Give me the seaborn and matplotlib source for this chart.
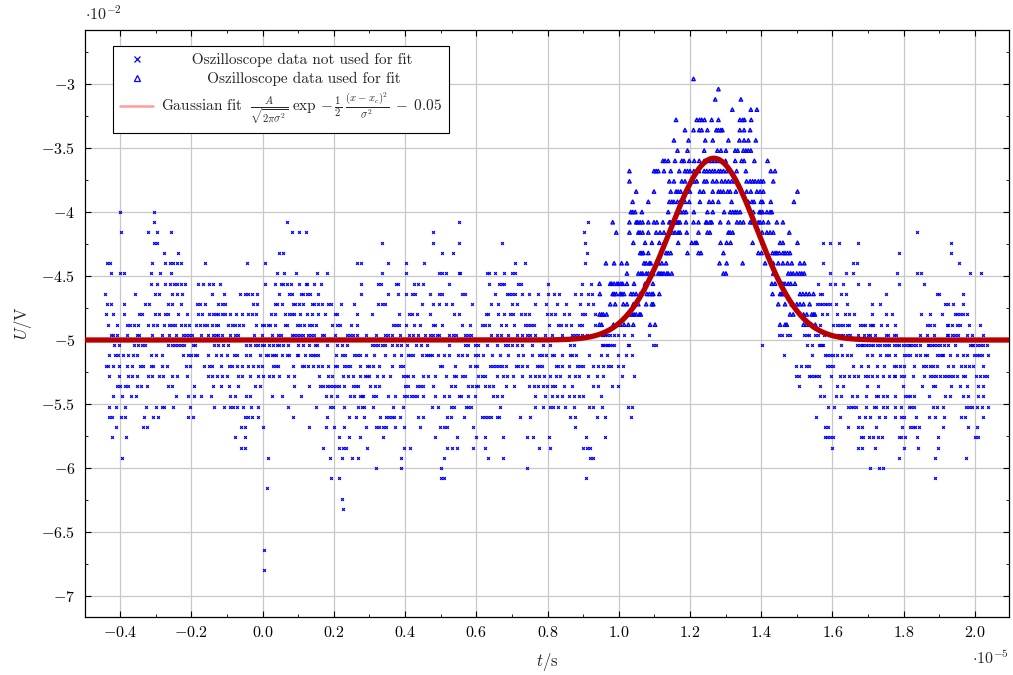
import numpy as np
import pandas as pd
import matplotlib
matplotlib.use("Agg")
import matplotlib.pyplot as plt
import seaborn as sns
from matplotlib.lines import Line2D
from matplotlib.ticker import MultipleLocator, FuncFormatter

# ---------------- data (time in units of 1e-5 s, voltage in V) ----------------
U_LEVELS = [-0.0296, -0.0304, -0.0312, -0.0320, -0.0328, -0.0336, -0.0344, -0.0352,
            -0.0360, -0.0368, -0.0376, -0.0384, -0.0392, -0.0400, -0.0408, -0.0416,
            -0.0424, -0.0432, -0.0440, -0.0448, -0.0456, -0.0464, -0.0472, -0.0480,
            -0.0488, -0.0496, -0.0504, -0.0512, -0.0520, -0.0528, -0.0536, -0.0544,
            -0.0552, -0.0560, -0.0568, -0.0576, -0.0584, -0.0592, -0.0600, -0.0608,
            -0.0616, -0.0624, -0.0632, -0.0664, -0.0680]

T_AT_LEVEL = [
    [1.210],
    [1.280],
    [1.271, 1.343],
    [1.319, 1.371, 1.388],
    [1.161, 1.219, 1.227, 1.233, 1.241, 1.261, 1.280, 1.340, 1.348, 1.353, 1.372],
    [1.186, 1.210, 1.226, 1.233, 1.249, 1.274, 1.280, 1.287, 1.291, 1.340, 1.352, 1.369],
    [1.155, 1.196, 1.243, 1.264, 1.308, 1.339, 1.352, 1.364, 1.385],
    [1.165, 1.193, 1.240, 1.277, 1.287, 1.301, 1.327, 1.334, 1.350, 1.357, 1.364, 1.371],
    [1.124, 1.130, 1.139, 1.158, 1.177, 1.183, 1.198, 1.212, 1.226, 1.240, 1.245, 1.254,
     1.261, 1.270, 1.278, 1.286, 1.300, 1.327, 1.345, 1.352, 1.381, 1.418],
    [1.030, 1.099, 1.105, 1.111, 1.127, 1.146, 1.170, 1.186, 1.193, 1.200, 1.211, 1.225,
     1.240, 1.247, 1.255, 1.263, 1.270, 1.280, 1.286, 1.294, 1.303, 1.331, 1.357, 1.427, 1.439],
    [1.030, 1.142, 1.155, 1.177, 1.186, 1.205, 1.212, 1.219, 1.240, 1.247, 1.264, 1.275,
     1.289, 1.299, 1.308, 1.317, 1.327, 1.359, 1.369, 1.376, 1.383, 1.392, 1.399, 1.406, 1.434],
    [1.049, 1.099, 1.146, 1.161, 1.167, 1.174, 1.186, 1.200, 1.228, 1.238, 1.264, 1.280,
     1.286, 1.294, 1.306, 1.313, 1.329, 1.359, 1.371, 1.388, 1.397, 1.406, 1.502],
    [1.039, 1.083, 1.142, 1.149, 1.155, 1.165, 1.172, 1.186, 1.198, 1.228, 1.254, 1.264,
     1.280, 1.317, 1.364, 1.374, 1.380, 1.399, 1.404, 1.427, 1.492],
    [-0.400, -0.306, 1.034, 1.039, 1.046, 1.065, 1.139, 1.167, 1.174, 1.182, 1.189, 1.211,
     1.249, 1.264, 1.296, 1.313, 1.320, 1.327, 1.333, 1.341, 1.378, 1.395, 1.399, 1.404,
     1.416, 1.425, 1.430],
    [-0.304, 0.067, 0.551, 0.913, 0.983, 1.030, 1.049, 1.053, 1.060, 1.067, 1.083, 1.099,
     1.107, 1.124, 1.142, 1.146, 1.152, 1.158, 1.163, 1.167, 1.172, 1.189, 1.210, 1.224,
     1.245, 1.247, 1.256, 1.261, 1.285, 1.308, 1.332, 1.341, 1.350, 1.369, 1.376, 1.383,
     1.392, 1.397, 1.406, 1.420, 1.444, 1.461],
    [-0.399, -0.321, -0.296, -0.257, 0.083, 0.103, 0.122, 0.479, 0.903, 0.993, 1.030, 1.055,
     1.060, 1.067, 1.083, 1.105, 1.116, 1.127, 1.144, 1.151, 1.158, 1.167, 1.172, 1.191,
     1.224, 1.249, 1.256, 1.308, 1.313, 1.320, 1.403, 1.416, 1.425, 1.434, 1.479, 1.837],
    [-0.304, -0.298, 0.334, 0.479, 0.552, 0.671, 0.905, 1.041, 1.074, 1.093, 1.114, 1.127,
     1.167, 1.205, 1.214, 1.219, 1.286, 1.303, 1.314, 1.376, 1.404, 1.453, 1.461, 1.502,
     1.575, 1.592, 1.619, 1.671, 1.932],
    [-0.276, -0.238, 0.047, 0.058, 0.505, 0.534, 0.912, 1.060, 1.065, 1.069, 1.083, 1.133,
     1.139, 1.146, 1.193, 1.224, 1.231, 1.294, 1.392, 1.401, 1.432, 1.439, 1.444, 1.451,
     1.461, 1.467, 1.474, 1.481, 1.788, 1.932],
    [-0.436, -0.428, -0.312, -0.275, -0.259, -0.251, -0.241, -0.228, -0.162, -0.045, 0.006,
     0.264, 0.276, 0.353, 0.403, 0.454, 0.709, 0.737, 0.905, 0.964, 0.987, 1.008, 1.023,
     1.071, 1.077, 1.086, 1.090, 1.111, 1.121, 1.133, 1.283, 1.303, 1.348, 1.411, 1.434,
     1.448, 1.461, 1.474, 1.486, 1.509, 1.521, 1.573, 1.659, 1.669, 1.956],
    [-0.427, -0.401, -0.390, -0.313, -0.288, -0.258, 0.041, 0.061, 0.093, 0.153, 0.182,
     0.335, 0.403, 0.495, 0.505, 0.514, 0.550, 0.554, 0.629, 0.636, 0.653, 0.679, 0.700,
     0.709, 1.023, 1.055, 1.062, 1.067, 1.077, 1.083, 1.090, 1.097, 1.111, 1.116, 1.121,
     1.127, 1.135, 1.139, 1.149, 1.294, 1.301, 1.434, 1.476, 1.483, 1.490, 1.500, 1.508,
     1.514, 1.521, 1.594, 1.639, 1.659, 1.781, 1.839, 1.848, 1.987, 2.017],
    [-0.314, -0.298, -0.273, -0.260, -0.248, -0.242, -0.228, -0.218, -0.181, -0.169, -0.152,
     -0.140, -0.119, 0.006, 0.036, 0.051, 0.058, 0.067, 0.079, 0.103, 0.121, 0.125, 0.144,
     0.164, 0.276, 0.325, 0.332, 0.374, 0.379, 0.426, 0.435, 0.451, 0.523, 0.636, 0.664,
     0.671, 0.679, 0.718, 0.726, 0.802, 0.898, 0.922, 0.946, 0.976, 0.980, 0.987, 0.995,
     0.999, 1.006, 1.011, 1.023, 1.043, 1.074, 1.096, 1.430, 1.439, 1.461, 1.467, 1.476,
     1.483, 1.495, 1.559, 1.592, 1.608, 1.631, 1.671, 1.702, 1.788, 1.856],
    [-0.442, -0.359, -0.302, -0.291, -0.254, -0.240, -0.226, -0.142, -0.110, -0.063, -0.051,
     -0.040, -0.029, -0.015, 0.046, 0.074, 0.083, 0.107, 0.114, 0.124, 0.133, 0.156, 0.276,
     0.353, 0.379, 0.402, 0.418, 0.428, 0.470, 0.495, 0.503, 0.561, 0.568, 0.653, 0.685,
     0.692, 0.700, 0.709, 0.729, 0.749, 0.772, 0.802, 0.818, 0.832, 0.877, 0.893, 0.913,
     0.924, 0.947, 0.983, 0.987, 0.993, 1.004, 1.009, 1.015, 1.034, 1.041, 1.049, 1.060,
     1.079, 1.086, 1.093, 1.097, 1.114, 1.432, 1.453, 1.457, 1.464, 1.509, 1.517, 1.526,
     1.535, 1.547, 1.565, 1.572, 1.625, 1.639, 1.751, 1.893, 1.900, 1.968],
    [-0.437, -0.426, -0.390, -0.331, -0.318, -0.267, -0.254, -0.228, -0.185, -0.176, -0.162,
     -0.125, -0.115, -0.105, -0.028, -0.015, 0.035, 0.039, 0.053, 0.086, 0.091, 0.102,
     0.114, 0.138, 0.144, 0.154, 0.166, 0.183, 0.192, 0.219, 0.256, 0.325, 0.336, 0.344,
     0.447, 0.478, 0.495, 0.514, 0.533, 0.587, 0.641, 0.662, 0.699, 0.715, 0.765, 0.796,
     0.826, 0.851, 0.891, 0.913, 0.929, 0.976, 0.990, 1.013, 1.023, 1.041, 1.055, 1.077,
     1.093, 1.097, 1.448, 1.467, 1.486, 1.490, 1.500, 1.509, 1.519, 1.536, 1.558, 1.564,
     1.570, 1.578, 1.584, 1.594, 1.611, 1.641, 1.711, 1.734, 1.917, 1.926, 1.940, 1.968],
    [-0.440, -0.419, -0.390, -0.348, -0.340, -0.302, -0.291, -0.274, -0.267, -0.237, -0.212,
     -0.181, -0.171, -0.151, -0.139, -0.131, -0.125, -0.115, -0.106, -0.092, -0.075, -0.058,
     -0.042, -0.031, -0.019, 0.023, 0.035, 0.063, 0.075, 0.081, 0.089, 0.105, 0.124, 0.138,
     0.156, 0.175, 0.203, 0.210, 0.264, 0.308, 0.384, 0.411, 0.418, 0.432, 0.470, 0.536,
     0.550, 0.626, 0.634, 0.662, 0.678, 0.695, 0.702, 0.726, 0.737, 0.748, 0.798, 0.809,
     0.821, 0.845, 0.859, 0.896, 0.905, 0.932, 0.946, 0.952, 0.957, 0.966, 1.023, 1.030,
     1.037, 1.043, 1.049, 1.058, 1.062, 1.481, 1.490, 1.519, 1.528, 1.542, 1.547, 1.551,
     1.570, 1.584, 1.614, 1.636, 1.648, 1.661, 1.711, 1.751, 1.767, 1.848, 1.873, 1.907,
     1.945, 1.949, 1.959, 1.968, 1.977],
    [-0.435, -0.408, -0.381, -0.374, -0.360, -0.349, -0.321, -0.307, -0.298, -0.276, -0.262,
     -0.254, -0.246, -0.230, -0.218, -0.206, -0.187, -0.176, -0.166, -0.157, -0.143, -0.132,
     -0.126, -0.098, -0.087, -0.078, -0.067, -0.054, -0.020, -0.003, 0.004, 0.016, 0.021,
     0.036, 0.063, 0.067, 0.097, 0.105, 0.116, 0.130, 0.139, 0.149, 0.194, 0.208, 0.217,
     0.247, 0.266, 0.365, 0.375, 0.384, 0.402, 0.425, 0.442, 0.479, 0.484, 0.503, 0.559,
     0.582, 0.617, 0.623, 0.636, 0.669, 0.684, 0.707, 0.737, 0.746, 0.754, 0.763, 0.804,
     0.829, 0.838, 0.851, 0.865, 0.887, 0.896, 0.934, 0.946, 0.952, 0.985, 0.995, 1.004,
     1.015, 1.027, 1.041, 1.088, 1.102, 1.453, 1.467, 1.472, 1.519, 1.528, 1.542, 1.552,
     1.564, 1.601, 1.614, 1.622, 1.629, 1.641, 1.648, 1.678, 1.685, 1.692, 1.706, 1.711,
     1.715, 1.737, 1.753, 1.776, 1.865, 1.875, 1.884, 1.922, 1.926, 1.935, 1.949, 1.959,
     1.985, 2.015],
    [-0.426, -0.419, -0.410, -0.381, -0.354, -0.346, -0.312, -0.282, -0.263, -0.244, -0.225,
     -0.215, -0.207, -0.199, -0.174, -0.154, -0.140, -0.132, -0.125, -0.115, -0.092, -0.078,
     -0.068, -0.024, -0.003, 0.025, 0.044, 0.051, 0.081, 0.089, 0.097, 0.105, 0.114, 0.128,
     0.135, 0.145, 0.166, 0.172, 0.203, 0.238, 0.245, 0.255, 0.264, 0.290, 0.318, 0.344,
     0.353, 0.362, 0.386, 0.412, 0.423, 0.435, 0.456, 0.470, 0.479, 0.489, 0.495, 0.522,
     0.534, 0.543, 0.568, 0.578, 0.585, 0.641, 0.657, 0.669, 0.690, 0.714, 0.729, 0.741,
     0.751, 0.765, 0.793, 0.812, 0.840, 0.868, 0.877, 0.885, 0.896, 0.910, 0.952, 0.957,
     0.962, 0.966, 0.976, 0.987, 0.999, 1.015, 1.038, 1.086, 1.451, 1.458, 1.472, 1.481,
     1.521, 1.528, 1.535, 1.550, 1.559, 1.576, 1.612, 1.621, 1.631, 1.640, 1.650, 1.673,
     1.688, 1.699, 1.706, 1.720, 1.751, 1.757, 1.772, 1.779, 1.847, 1.865, 1.884, 1.921,
     1.926, 1.935, 1.945, 1.954, 1.977, 1.991, 2.024],
    [-0.417, -0.404, -0.361, -0.351, -0.338, -0.331, -0.267, -0.254, -0.246, -0.237, -0.228,
     -0.220, -0.197, -0.190, -0.136, -0.125, -0.112, -0.096, -0.046, -0.037, -0.022, -0.012,
     -0.003, 0.004, 0.018, 0.028, 0.039, 0.047, 0.056, 0.072, 0.100, 0.114, 0.130, 0.147,
     0.152, 0.180, 0.208, 0.222, 0.236, 0.308, 0.316, 0.325, 0.334, 0.344, 0.362, 0.376,
     0.389, 0.404, 0.431, 0.444, 0.461, 0.524, 0.568, 0.578, 0.596, 0.606, 0.631, 0.657,
     0.681, 0.688, 0.701, 0.714, 0.728, 0.756, 0.786, 0.807, 0.863, 0.873, 0.952, 0.957,
     0.962, 0.966, 0.971, 0.976, 0.980, 0.988, 1.025, 1.029, 1.097, 1.105, 1.401, 1.528,
     1.544, 1.561, 1.566, 1.570, 1.575, 1.623, 1.669, 1.678, 1.683, 1.687, 1.695, 1.701,
     1.708, 1.715, 1.725, 1.734, 1.745, 1.753, 1.760, 1.772, 1.781, 1.786, 1.798, 1.807,
     1.814, 1.818, 1.826, 1.835, 1.846, 1.868, 1.872, 1.879, 1.884, 1.893, 1.902, 1.914,
     1.926, 1.945, 1.987, 1.992, 1.996, 2.006, 2.015, 2.024, 2.034],
    [-0.433, -0.415, -0.407, -0.391, -0.377, -0.363, -0.352, -0.314, -0.301, -0.284, -0.225,
     -0.211, -0.202, -0.190, -0.185, -0.153, -0.131, -0.118, -0.101, -0.081, -0.073, -0.047,
     -0.037, -0.007, 0.009, 0.016, 0.025, 0.033, 0.037, 0.053, 0.067, 0.075, 0.096, 0.100,
     0.119, 0.133, 0.140, 0.147, 0.156, 0.206, 0.222, 0.231, 0.257, 0.266, 0.273, 0.290,
     0.314, 0.344, 0.370, 0.389, 0.407, 0.414, 0.421, 0.447, 0.458, 0.463, 0.470, 0.475,
     0.492, 0.510, 0.522, 0.548, 0.559, 0.573, 0.595, 0.604, 0.620, 0.645, 0.667, 0.688,
     0.718, 0.730, 0.757, 0.776, 0.784, 0.795, 0.812, 0.819, 0.840, 0.863, 0.870, 0.879,
     0.917, 0.950, 0.968, 0.999, 1.020, 1.037, 1.465, 1.542, 1.580, 1.586, 1.594, 1.601,
     1.614, 1.627, 1.640, 1.652, 1.697, 1.711, 1.734, 1.751, 1.758, 1.776, 1.800, 1.809,
     1.818, 1.835, 1.845, 1.861, 1.865, 1.893, 1.901, 1.907, 1.912, 1.931, 1.949, 1.966,
     1.978, 1.998, 2.006, 2.013, 2.020, 2.036],
    [-0.440, -0.434, -0.419, -0.403, -0.382, -0.367, -0.345, -0.335, -0.314, -0.307, -0.282,
     -0.270, -0.216, -0.203, -0.166, -0.150, -0.143, -0.117, -0.094, -0.085, -0.073, -0.059,
     -0.042, -0.026, -0.012, -0.003, 0.028, 0.037, 0.044, 0.086, 0.110, 0.117, 0.128, 0.140,
     0.156, 0.166, 0.184, 0.203, 0.208, 0.227, 0.236, 0.245, 0.273, 0.292, 0.300, 0.311,
     0.327, 0.364, 0.386, 0.393, 0.498, 0.503, 0.540, 0.582, 0.595, 0.601, 0.639, 0.648,
     0.655, 0.664, 0.671, 0.684, 0.711, 0.718, 0.729, 0.742, 0.770, 0.776, 0.784, 0.823,
     0.830, 0.840, 0.861, 0.882, 0.891, 0.901, 0.929, 0.943, 0.957, 0.971, 0.977, 0.997,
     1.011, 1.498, 1.511, 1.526, 1.535, 1.584, 1.592, 1.603, 1.657, 1.680, 1.701, 1.726,
     1.745, 1.772, 1.779, 1.790, 1.802, 1.828, 1.854, 1.863, 1.873, 1.882, 1.893, 1.926,
     1.938, 1.961, 1.973, 1.985, 1.994, 2.024],
    [-0.431, -0.403, -0.377, -0.368, -0.352, -0.323, -0.312, -0.290, -0.279, -0.254, -0.242,
     -0.212, -0.153, -0.143, -0.129, -0.115, -0.101, -0.068, -0.059, -0.036, -0.014, 0.002,
     0.019, 0.030, 0.046, 0.070, 0.089, 0.159, 0.184, 0.194, 0.225, 0.241, 0.255, 0.272,
     0.287, 0.292, 0.300, 0.320, 0.337, 0.358, 0.395, 0.402, 0.409, 0.423, 0.451, 0.465,
     0.484, 0.514, 0.536, 0.542, 0.559, 0.568, 0.606, 0.615, 0.623, 0.657, 0.676, 0.685,
     0.704, 0.729, 0.751, 0.765, 0.776, 0.791, 0.807, 0.824, 0.835, 0.859, 0.877, 0.887,
     0.915, 0.938, 0.955, 1.010, 1.043, 1.498, 1.505, 1.533, 1.540, 1.547, 1.554, 1.561,
     1.595, 1.620, 1.633, 1.648, 1.661, 1.673, 1.692, 1.701, 1.711, 1.725, 1.742, 1.758,
     1.772, 1.776, 1.792, 1.801, 1.826, 1.858, 1.873, 1.882, 1.891, 1.901, 1.914, 1.921,
     1.931, 1.940, 1.949, 1.966, 1.973, 2.004, 2.015, 2.026, 2.034],
    [-0.410, -0.401, -0.387, -0.377, -0.354, -0.342, -0.326, -0.265, -0.254, -0.193, -0.140,
     -0.117, -0.094, -0.068, -0.022, -0.007, 0.088, 0.131, 0.161, 0.170, 0.180, 0.189,
     0.197, 0.206, 0.213, 0.228, 0.253, 0.262, 0.269, 0.301, 0.316, 0.328, 0.400, 0.407,
     0.433, 0.442, 0.451, 0.478, 0.529, 0.540, 0.578, 0.587, 0.598, 0.606, 0.623, 0.636,
     0.648, 0.683, 0.706, 0.749, 0.762, 0.772, 0.786, 0.798, 0.812, 0.821, 0.845, 0.870,
     0.929, 0.943, 0.980, 0.997, 1.505, 1.564, 1.612, 1.631, 1.697, 1.729, 1.798, 1.851,
     1.882, 1.889, 1.933, 1.959, 1.978, 2.010, 2.024],
    [-0.421, -0.396, -0.370, -0.356, -0.244, -0.209, -0.192, -0.173, -0.145, -0.091, -0.078,
     -0.047, -0.036, 0.027, 0.055, 0.107, 0.178, 0.191, 0.210, 0.245, 0.257, 0.272, 0.278,
     0.283, 0.311, 0.318, 0.351, 0.372, 0.397, 0.406, 0.416, 0.425, 0.433, 0.451, 0.484,
     0.508, 0.522, 0.550, 0.557, 0.578, 0.595, 0.648, 0.657, 0.671, 0.765, 0.793, 0.812,
     0.826, 0.842, 0.859, 0.873, 0.887, 0.901, 0.950, 1.564, 1.577, 1.611, 1.624, 1.655,
     1.669, 1.695, 1.723, 1.729, 1.743, 1.753, 1.776, 1.804, 1.811, 1.818, 1.828, 1.870,
     1.915, 1.931, 1.966, 1.982, 2.010, 2.024],
    [-0.432, -0.413, -0.387, -0.328, -0.301, -0.284, -0.277, -0.251, -0.203, -0.138, -0.108,
     -0.092, -0.082, -0.071, -0.054, -0.033, -0.012, 0.070, 0.150, 0.189, 0.197, 0.229,
     0.269, 0.278, 0.285, 0.311, 0.365, 0.395, 0.475, 0.493, 0.529, 0.537, 0.570, 0.578,
     0.585, 0.667, 0.765, 0.788, 0.807, 0.814, 0.829, 0.849, 0.875, 0.917, 0.927, 0.952,
     1.027, 1.037, 1.589, 1.605, 1.645, 1.652, 1.659, 1.667, 1.695, 1.717, 1.723, 1.742,
     1.753, 1.776, 1.792, 1.814, 1.820, 1.828, 1.882, 1.895, 1.910, 1.975, 1.985, 1.992,
     2.006, 2.020, 2.036],
    [-0.432, -0.424, -0.398, -0.387, -0.333, -0.309, -0.293, -0.211, -0.197, -0.051, -0.040,
     -0.031, -0.012, 0.086, 0.180, 0.243, 0.262, 0.285, 0.330, 0.346, 0.355, 0.362, 0.370,
     0.386, 0.437, 0.451, 0.517, 0.528, 0.566, 0.615, 0.625, 0.632, 0.641, 0.657, 0.665,
     0.723, 0.751, 0.863, 0.877, 0.940, 0.962, 1.035, 1.554, 1.622, 1.676, 1.692, 1.706,
     1.732, 1.748, 1.776, 1.792, 1.801, 1.835, 1.870, 1.889, 1.914, 1.962, 1.973, 2.022],
    [-0.412, -0.335, -0.326, -0.061, -0.050, 0.000, 0.131, 0.178, 0.200, 0.229, 0.290,
     0.318, 0.327, 0.337, 0.346, 0.372, 0.398, 0.442, 0.498, 0.508, 0.517, 0.592, 0.877,
     1.578, 1.589, 1.645, 1.673, 1.683, 1.723, 1.795, 1.818, 1.826, 1.832, 1.842, 1.912,
     1.982, 2.006],
    [-0.422, -0.385, -0.078, -0.050, 0.213, 0.243, 0.272, 0.339, 0.484, 0.547, 0.598, 0.623,
     0.676, 0.743, 0.760, 0.804, 0.908, 0.961, 1.580, 1.584, 1.594, 1.603, 1.680, 1.687,
     1.704, 1.713, 1.727, 1.739, 1.786, 1.792, 1.804, 1.839, 1.898, 2.001, 2.010],
    [-0.061, -0.051, 0.170, 0.214, 0.225, 0.233, 0.292, 0.397, 0.414, 0.517, 0.531, 0.547,
     0.592, 0.623, 0.776, 0.807, 0.899, 0.910, 0.918, 1.598, 1.673, 1.683, 1.720, 1.801,
     1.840, 1.898],
    [-0.394, 0.014, 0.189, 0.224, 0.252, 0.269, 0.388, 0.509, 0.632, 0.676, 0.919, 0.927,
     1.786, 1.889, 1.975],
    [0.318, 0.389, 0.501, 0.743, 1.706, 1.732, 1.741],
    [0.191, 0.215, 0.501, 0.509, 0.908, 1.889],
    [0.012],
    [0.224],
    [0.225],
    [0.005],
    [0.005],
]

# fit parameters (time in 1e-5 s)
FIT_XC = 1.267
FIT_SIGMA = 0.122
FIT_PEAK = 0.0142
FIT_OFFSET = -0.05
FIT_A = FIT_PEAK * np.sqrt(2 * np.pi * FIT_SIGMA ** 2)
FIT_WINDOW = (0.945, 1.555)
FIT_UMIN = -0.0488

X_TICKS = [-0.4, -0.2, 0.0, 0.2, 0.4, 0.6, 0.8, 1.0, 1.2, 1.4, 1.6, 1.8, 2.0]
Y_TICKS = [-0.03, -0.035, -0.04, -0.045, -0.05, -0.055, -0.06, -0.065, -0.07]

LABEL_NOFIT = "Oszilloscope data not used for fit"
LABEL_FIT = "Oszilloscope data used for fit"
LABEL_GAUSS = (r"Gaussian fit $\;\frac{A}{\sqrt{2\pi\sigma^2}}\;\exp-\frac{1}{2}\;"
               r"\frac{(x-x_c)^2}{\sigma^2}\;-\;0.05$")

# ---------------- build table ----------------
rows = []
for u, ts in zip(U_LEVELS, T_AT_LEVEL):
    for t in ts:
        rows.append((t, u))
df = pd.DataFrame(rows, columns=["t", "U"])
df["used"] = (df["U"] >= FIT_UMIN - 1e-9) & (df["t"] >= FIT_WINDOW[0]) & (df["t"] <= FIT_WINDOW[1])

t_curve = np.linspace(-0.5, 2.1, 800)
u_curve = FIT_A / np.sqrt(2 * np.pi * FIT_SIGMA ** 2) * np.exp(-0.5 * (t_curve - FIT_XC) ** 2 / FIT_SIGMA ** 2) + FIT_OFFSET

# ---------------- style ----------------
sns.set_theme(style="ticks")
plt.rcParams.update({
    "font.family": "serif",
    "font.serif": ["cmr10", "DejaVu Serif"],
    "mathtext.fontset": "cm",
    "axes.formatter.use_mathtext": True,
    "axes.unicode_minus": False,
    "axes.edgecolor": "black",
    "axes.linewidth": 0.9,
})

BLUE = "#0000ff"
RED = "#b80000"
PINK = "#ff9d9d"

fig = plt.figure(figsize=(10.13, 6.75), dpi=100)
ax = fig.add_axes([85 / 1013, 1 - 617 / 675, (1009 - 85) / 1013, (617 - 30) / 675])

sns.scatterplot(data=df[~df["used"]], x="t", y="U", marker="x", color=BLUE,
                s=4, linewidth=0.85, ax=ax, zorder=3, legend=False)
sns.scatterplot(data=df[df["used"]], x="t", y="U", marker="^", facecolor="none",
                edgecolor=BLUE, s=6, linewidth=1.0, ax=ax, zorder=4, legend=False)
sns.lineplot(x=t_curve, y=u_curve, color=RED, linewidth=3.8, ax=ax, zorder=5,
             legend=False, sort=False)

ax.set_xlim(-0.499, 2.096)
ax.set_ylim(-0.07164, -0.02578)

ax.set_xticks(X_TICKS)
ax.set_yticks(Y_TICKS)
ax.xaxis.set_minor_locator(MultipleLocator(0.1))
ax.yaxis.set_minor_locator(MultipleLocator(0.0025))


def xfmt(v, pos):
    s = f"{v:.1f}"
    if s == "-0.0":
        s = "0.0"
    return f"${s}$"


def yfmt(v, pos):
    w = round(v / 0.01, 2)
    if abs(w - round(w)) < 1e-6:
        s = f"{int(round(w))}"
    else:
        s = f"{w:.1f}"
    return f"${s}$"


ax.xaxis.set_major_formatter(FuncFormatter(xfmt))
ax.yaxis.set_major_formatter(FuncFormatter(yfmt))

ax.tick_params(which="both", direction="in", top=True, right=True, colors="black")
ax.tick_params(which="major", length=4, width=0.8, labelsize=11.5)
ax.tick_params(which="minor", length=2.2, width=0.6)
ax.tick_params(axis="x", which="major", pad=6)
ax.tick_params(axis="y", which="major", pad=7)

ax.grid(True, which="major", color="#c8c8c8", linewidth=0.9)
ax.set_axisbelow(True)
for sp in ax.spines.values():
    sp.set_visible(True)
    sp.set_color("black")

ax.set_xlabel(r"$t/\mathrm{s}$", fontsize=12, labelpad=8)
ax.set_ylabel(r"$U/\mathrm{V}$", fontsize=12, labelpad=5)

ax.text(0.0, 1.012, r"$\cdot 10^{-2}$", transform=ax.transAxes, ha="left", va="bottom", fontsize=11.5)
ax.text(1.0, -0.055, r"$\cdot 10^{-5}$", transform=ax.transAxes, ha="right", va="top", fontsize=11.5)

handles = [
    Line2D([], [], linestyle="none", marker="x", color=BLUE, markersize=4, markeredgewidth=0.9),
    Line2D([], [], linestyle="none", marker="^", markerfacecolor="none", markeredgecolor=BLUE,
           markersize=4.5, markeredgewidth=0.9),
    Line2D([], [], color=PINK, linewidth=1.8),
]
leg = ax.legend(handles, [LABEL_NOFIT, LABEL_FIT, LABEL_GAUSS], loc="upper left",
                bbox_to_anchor=((113 - 85) / 924, 1 - (46 - 30) / 587), borderaxespad=0,
                frameon=True, fancybox=False, edgecolor="black", framealpha=1,
                fontsize=11, handlelength=2.2, handletextpad=0.5, borderpad=0.45,
                labelspacing=0.3)
leg.get_frame().set_linewidth(0.8)
leg.set_zorder(10)

# centre the shorter legend labels (pgfplots style) by left-padding with spaces
fig.canvas.draw()
renderer = fig.canvas.get_renderer()
texts = leg.get_texts()
widths = [t.get_window_extent(renderer).width for t in texts]
wmax = max(widths)
probe = fig.text(0, 0, "x", fontsize=11)
w1 = probe.get_window_extent(renderer).width
probe.set_text(" " * 20 + "x")
w2 = probe.get_window_extent(renderer).width
probe.remove()
space_w = max((w2 - w1) / 20.0, 1e-6)
for t, w in zip(texts, widths):
    n = int(round((wmax - w) / 2.0 / space_w))
    if n > 0:
        t.set_text(" " * n + t.get_text())

fig.savefig("out.png", dpi=100)
